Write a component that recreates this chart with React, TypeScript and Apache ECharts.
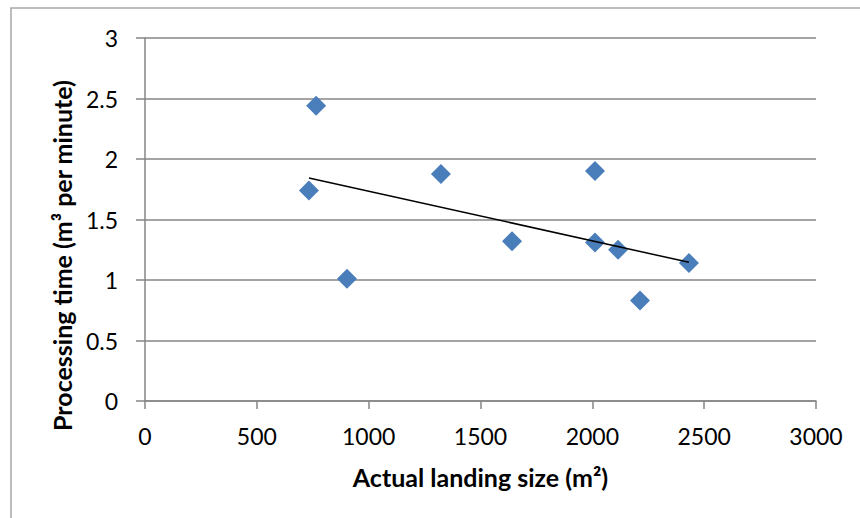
import React, { useEffect, useRef } from 'react';
import * as echarts from 'echarts';

// Landing size (m²) vs processing time (m³ per minute)
const landingSize = [733, 765, 903, 1323, 1641, 2012, 2012, 2115, 2213, 2432];
const processingTime = [1.74, 2.44, 1.01, 1.876, 1.32, 1.9, 1.31, 1.25, 0.83, 1.14];

const xTitle = 'Actual landing size (m²)';
const yTitle = 'Processing time (m³ per minute)';

const FONT = 'Lato';

// least squares trend line over the data range
const trendLine = (): [number, number][] => {
  const n = landingSize.length;
  const mx = landingSize.reduce((a, b) => a + b, 0) / n;
  const my = processingTime.reduce((a, b) => a + b, 0) / n;
  let sxy = 0;
  let sxx = 0;
  landingSize.forEach((x, i) => {
    sxy += (x - mx) * (processingTime[i] - my);
    sxx += (x - mx) * (x - mx);
  });
  const slope = sxy / sxx;
  const x0 = Math.min(...landingSize);
  const x1 = Math.max(...landingSize);
  return [
    [x0, my + slope * (x0 - mx)],
    [x1, my + slope * (x1 - mx)],
  ];
};

const App: React.FC = () => {
  const chartRef = useRef<HTMLDivElement>(null);

  useEffect(() => {
    if (!chartRef.current) return;
    document.body.style.margin = '0';
    const chart = echarts.init(chartRef.current, undefined, { renderer: 'svg' });

    const option: echarts.EChartsOption = {
      animation: false,
      backgroundColor: '#ffffff',
      textStyle: { fontFamily: FONT },
      graphic: [
        {
          type: 'rect',
          shape: { x: 11, y: 8, width: 900, height: 600 },
          style: { fill: 'none', stroke: '#a6a6a6', lineWidth: 1.5 },
          silent: true,
        },
      ],
      grid: { left: 145, right: 44, top: 38, bottom: 117 },
      xAxis: {
        type: 'value',
        min: 0,
        max: 3000,
        interval: 500,
        name: xTitle,
        nameLocation: 'middle',
        nameGap: 63,
        nameTextStyle: { fontFamily: FONT, fontSize: 25, fontWeight: 'bold', color: '#000' },
        axisLine: { show: true, lineStyle: { color: '#868686', width: 1.5 } },
        axisTick: { show: true, length: 8, lineStyle: { color: '#868686', width: 1.5 } },
        axisLabel: {
          margin: 23,
          fontFamily: FONT,
          fontSize: 23,
          color: '#000',
          formatter: (v: number) => String(v),
        },
        splitLine: { show: false },
      },
      yAxis: {
        type: 'value',
        min: 0,
        max: 3,
        interval: 0.5,
        name: yTitle,
        nameLocation: 'middle',
        nameGap: 70,
        nameTextStyle: {
          fontFamily: FONT,
          fontSize: 25,
          fontWeight: 'bold',
          color: '#000',
          padding: [0, 72, 0, 0],
        },
        axisLine: { show: true, lineStyle: { color: '#868686', width: 1.5 } },
        axisTick: { show: true, length: 9, lineStyle: { color: '#868686', width: 1.5 } },
        axisLabel: { margin: 27, fontFamily: FONT, fontSize: 23, color: '#000' },
        splitLine: { show: true, lineStyle: { color: '#868686', width: 1.5 } },
      },
      series: [
        {
          type: 'line',
          data: trendLine(),
          showSymbol: false,
          symbol: 'none',
          lineStyle: { color: '#000', width: 1.5 },
          z: 3,
          silent: true,
        },
        {
          type: 'scatter',
          data: landingSize.map((x, i) => [x, processingTime[i]]),
          symbol: 'diamond',
          symbolSize: 20,
          itemStyle: { color: '#4a7ebb', opacity: 1 },
          z: 2,
        },
      ],
    };

    chart.setOption(option);
    return () => chart.dispose();
  }, []);

  return <div ref={chartRef} style={{ width: 860, height: 518 }} />;
};

export default App;
